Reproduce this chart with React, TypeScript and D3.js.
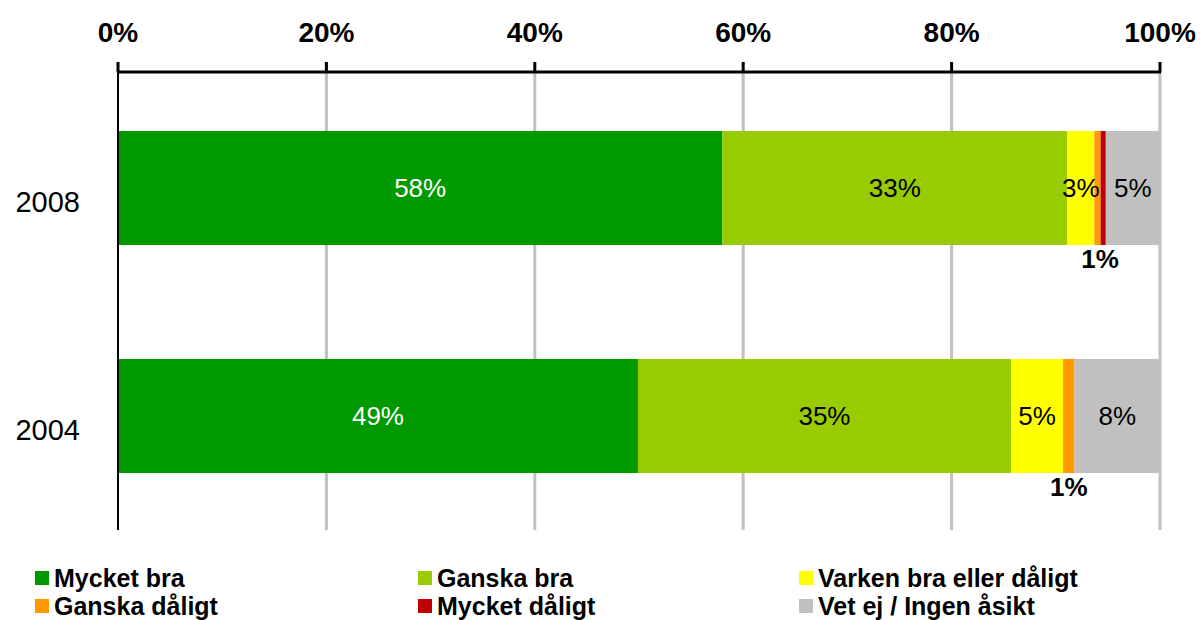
import React from "react";
import * as d3 from "d3";

const categories = ["2008", "2004"];
const seriesNames = [
  "Mycket bra",
  "Ganska bra",
  "Varken bra eller dåligt",
  "Ganska dåligt",
  "Mycket dåligt",
  "Vet ej / Ingen åsikt",
];
const seriesColors = ["#009900", "#99CC00", "#FFFF00", "#FF9900", "#C00000", "#C0C0C0"];
const values2008 = [58, 33.1, 2.6, 0.6, 0.5, 5.2];
const values2004 = [49.9, 35.8, 5.0, 1.1, 0, 8.2];
const labels2008 = ["58%", "33%", "3%", "", "", "5%"];
const labels2004 = ["49%", "35%", "5%", "", "", "8%"];
const outsideLabels = ["1%", "1%"];
const outsideFrom = [3, 3];
const outsideTo = [4, 3];
const tickValues = [0, 20, 40, 60, 80, 100];

const FONT = "'Liberation Sans', Arial, sans-serif";

export default function App() {
  const W = 1200;
  const H = 620;
  const x = d3.scaleLinear().domain([0, 100]).range([118, 1160]);
  const y = d3.scaleBand().domain(categories).range([74, 530]).paddingInner(0.5).paddingOuter(0.25);
  const allValues = [values2008, values2004];
  const allLabels = [labels2008, labels2004];
  const stacks = allValues.map((vals) => {
    let acc = 0;
    return vals.map((v) => {
      const s = acc;
      acc += v;
      return [s, acc];
    });
  });

  const legendCols = [35, 418, 799];
  const legendRows = [578, 606];

  return (
    <svg width={W} height={H} style={{ position: "absolute", left: 0, top: 0, background: "#fff" }} fontFamily={FONT}>
      {/* gridlines */}
      {tickValues.slice(1).map((t) => (
        <line key={"g" + t} x1={x(t)} x2={x(t)} y1={72} y2={530} stroke="#C0C0C0" strokeWidth={3} />
      ))}
      {/* bars */}
      {categories.map((c, ci) => (
        <g key={c}>
          {stacks[ci].map(([s, e], si) =>
            e - s > 0 ? (
              <rect key={si} x={x(s)} y={y(c)!} width={x(e) - x(s)} height={y.bandwidth()} fill={seriesColors[si]} />
            ) : null
          )}
          {stacks[ci].map(([s, e], si) =>
            allLabels[ci][si] ? (
              <text
                key={"l" + si}
                x={(x(s) + x(e)) / 2}
                y={y(c)! + y.bandwidth() / 2}
                dy="0.35em"
                textAnchor="middle"
                fontSize={26}
                fill={si === 0 ? "#fff" : "#000"}
              >
                {allLabels[ci][si]}
              </text>
            ) : null
          )}
          <text
            x={(x(stacks[ci][outsideFrom[ci]][0]) + x(stacks[ci][outsideTo[ci]][1])) / 2}
            y={y(c)! + y.bandwidth() + 14}
            dy="0.35em"
            textAnchor="middle"
            fontSize={26}
            fontWeight="bold"
          >
            {outsideLabels[ci]}
          </text>
          <text x={80} y={y(c)! + y.bandwidth() / 2 + 14} dy="0.35em" textAnchor="end" fontSize={29}>
            {c}
          </text>
        </g>
      ))}
      {/* left axis */}
      <line x1={118} x2={118} y1={72} y2={530} stroke="#000" strokeWidth={2} />
      {/* top axis */}
      <line x1={117} x2={1161} y1={72} y2={72} stroke="#000" strokeWidth={3} />
      {tickValues.map((t) => (
        <g key={"t" + t}>
          <line x1={x(t)} x2={x(t)} y1={62} y2={72} stroke="#000" strokeWidth={3} />
          <text x={x(t)} y={42} textAnchor="middle" fontSize={28} fontWeight="bold">
            {t + "%"}
          </text>
        </g>
      ))}
      {/* legend */}
      {seriesNames.map((n, i) => {
        const col = i % 3;
        const row = Math.floor(i / 3);
        const lx = legendCols[col];
        const ly = legendRows[row];
        return (
          <g key={n}>
            <rect x={lx} y={ly - 7} width={14} height={14} fill={seriesColors[i]} />
            <text x={lx + 19} y={ly} dy="0.35em" fontSize={25} fontWeight="bold">
              {n}
            </text>
          </g>
        );
      })}
    </svg>
  );
}
